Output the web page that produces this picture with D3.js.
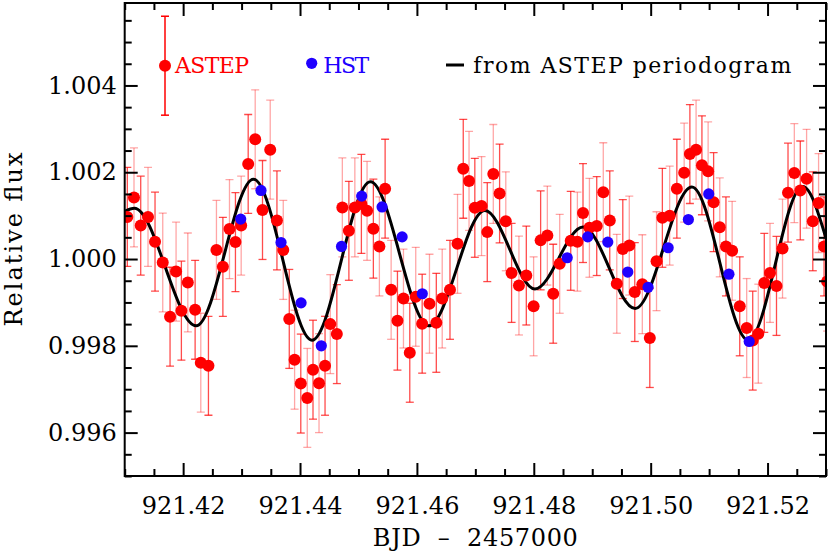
<!DOCTYPE html>
<html>
<head>
<meta charset="utf-8">
<script src="https://cdn.jsdelivr.net/npm/d3@7"></script>
<style>
  html, body { margin: 0; padding: 0; background: #fff; }
  svg { display: block; }
  text { font-family: "DejaVu Serif", "Liberation Serif", serif; }
</style>
</head>
<body>
<svg id="chart" width="830" height="554"></svg>
<script>
// ---------------- data ----------------
const astepTime = [
  921.41045, 921.41159, 921.41274, 921.41399, 921.41519, 921.41651, 921.41776, 921.41879, 921.41970, 921.42080,
  921.42205, 921.42302, 921.42433, 921.42570, 921.42680, 921.42793, 921.42895, 921.42993, 921.43113, 921.43233,
  921.43358, 921.43490, 921.43605, 921.43713, 921.43816, 921.43907, 921.44013, 921.44124, 921.44222, 921.44325,
  921.44428, 921.44518, 921.44630, 921.44724, 921.44836, 921.44938, 921.45050, 921.45147, 921.45255, 921.45358,
  921.45456, 921.45559, 921.45667, 921.45770, 921.45878, 921.45980, 921.46090, 921.46215, 921.46332, 921.46433,
  921.46566, 921.46695, 921.46793, 921.46892, 921.46991, 921.47106, 921.47204, 921.47307, 921.47415, 921.47521,
  921.47620, 921.47746, 921.47872, 921.47997, 921.48117, 921.48232, 921.48332, 921.48443, 921.48632, 921.48746,
  921.48842, 921.48952, 921.49077, 921.49189, 921.49300, 921.49420, 921.49523, 921.49634, 921.49728, 921.49857,
  921.49985, 921.50100, 921.50200, 921.50325, 921.50448, 921.50573, 921.50671, 921.50777, 921.50877, 921.50983,
  921.51077, 921.51182, 921.51288, 921.51394, 921.51524, 921.51643, 921.51746, 921.51842, 921.51944, 921.52042,
  921.52153, 921.52256, 921.52350, 921.52458, 921.52560, 921.52668, 921.52774, 921.52873, 921.52967, 921.53019
];
const astepFlux = [
  1.00097, 1.00142, 1.00077, 1.00097, 1.00040, 0.99992, 0.99867, 0.99971, 0.99881, 0.99946,
  0.99883, 0.99761, 0.99754, 1.00021, 0.99982, 1.00069, 1.00039, 1.00077, 1.00219, 1.00276,
  1.00113, 1.00252, 1.00089, 1.00021, 0.99862, 0.99768, 0.99713, 0.99680, 0.99745, 0.99714,
  0.99754, 0.99850, 0.99827, 1.00119, 1.00065, 1.00119, 1.00127, 1.00111, 1.00070, 1.00029,
  1.00162, 0.99929, 0.99858, 0.99909, 0.99784, 0.99913, 0.99851, 0.99897, 0.99853, 0.99909,
  0.99929, 1.00035, 1.00208, 1.00180, 1.00118, 1.00122, 1.00062, 1.00196, 1.00151, 1.00087,
  0.99968, 0.99939, 0.99962, 0.99891, 1.00043, 1.00054, 0.99920, 0.99989, 1.00042, 1.00040,
  1.00106, 1.00072, 1.00076, 1.00154, 1.00089, 0.99943, 1.00023, 1.00031, 0.99924, 0.99942,
  0.99818, 0.99995, 1.00095, 1.00100, 1.00162, 1.00199, 1.00242, 1.00252, 1.00216, 1.00202,
  1.00131, 1.00073, 1.00029, 1.00019, 0.99891, 0.99841, 0.99812, 0.99828, 0.99945, 0.99968,
  0.99938, 1.00024, 1.00153, 1.00198, 1.00158, 1.00185, 1.00087, 1.00129, 1.00029, 0.99948
];
const astepErr = 0.00114;

const hstTime = [
  921.42985, 921.43332, 921.43675, 921.44018, 921.44364, 921.44710, 921.45055, 921.45404, 921.45747, 921.46092,
  921.48572, 921.48923, 921.49266, 921.49608, 921.49955, 921.50299, 921.50645, 921.50993, 921.51339, 921.51686
];
const hstFlux = [
  1.00092, 1.00158, 1.00038, 0.99899, 0.99800, 1.00029, 1.00145, 1.00120, 1.00051, 0.99920,
  1.00003, 1.00051, 1.00039, 0.99970, 0.99935, 1.00026, 1.00091, 1.00150, 0.99965, 0.99810
];

// model curve (edges and turning points)
const modelTime = [
  921.41000, 921.41165, 921.42222, 921.43204, 921.44205, 921.45204, 921.46203, 921.47163,
  921.48020, 921.48842, 921.49734, 921.50705, 921.51670, 921.52602, 921.53000
];
const modelFlux = [
  1.00110, 1.00117, 0.99846, 1.00184, 0.99813, 1.00178, 0.99846, 1.00112,
  0.99931, 1.00074, 0.99886, 1.00166, 0.99813, 1.00167, 1.00048
];

const xMajorTicks = [921.42, 921.44, 921.46, 921.48, 921.50, 921.52];
const xTickLabels = ["921.42", "921.44", "921.46", "921.48", "921.50", "921.52"];
const yMajorTicks = [0.996, 0.998, 1.000, 1.002, 1.004];
const yTickLabels = ["0.996", "0.998", "1.000", "1.002", "1.004"];
const xDomain = [921.41, 921.53];
const yDomain = [0.995, 1.0059];
const xMinorStep = 0.005;
const yMinorStep = 0.0005;

const legendLabels = ["ASTEP", "HST", "from ASTEP periodogram"];
const xTitle = "BJD  \u2013  2457000";
const yTitle = "Relative flux";

// ---------------- drawing ----------------
const svg = d3.select("#chart");
const L = 124.7, R = 826, T = 3, B = 476;
const x = d3.scaleLinear().domain(xDomain).range([L, R]);
const y = d3.scaleLinear().domain(yDomain).range([B, T]);

const RED = "#ff0000", BLUE = "#2000ff";

svg.append("defs").append("clipPath").attr("id", "clip")
  .append("rect").attr("x", L).attr("y", T).attr("width", R - L).attr("height", B - T);

const plot = svg.append("g").attr("clip-path", "url(#clip)");

const astep = astepTime.map((t, i) => ({ t, f: astepFlux[i], e: astepErr, i }));
const hst = hstTime.map((t, i) => ({ t, f: hstFlux[i] }));

// error bars
const eb = plot.append("g").selectAll("g").data(astep).join("g")
  .attr("stroke", RED)
  .attr("stroke-opacity", d => d.i % 2 === 0 ? 0.7 : 0.35)
  .attr("stroke-width", 1.3);
eb.append("line")
  .attr("x1", d => x(d.t)).attr("x2", d => x(d.t))
  .attr("y1", d => y(d.f - d.e)).attr("y2", d => y(d.f + d.e));
eb.append("line")
  .attr("x1", d => x(d.t) - 4).attr("x2", d => x(d.t) + 4)
  .attr("y1", d => y(d.f + d.e)).attr("y2", d => y(d.f + d.e));
eb.append("line")
  .attr("x1", d => x(d.t) - 4).attr("x2", d => x(d.t) + 4)
  .attr("y1", d => y(d.f - d.e)).attr("y2", d => y(d.f - d.e));

// model curve
const model = modelTime.map((t, i) => ({ t, f: modelFlux[i] }));
plot.append("path").datum(model)
  .attr("fill", "none").attr("stroke", "#000").attr("stroke-width", 3)
  .attr("d", d3.line().x(d => x(d.t)).y(d => y(d.f)).curve(d3.curveMonotoneX));

// points
plot.append("g").selectAll("circle").data(astep).join("circle")
  .attr("cx", d => x(d.t)).attr("cy", d => y(d.f)).attr("r", 6).attr("fill", RED);
plot.append("g").selectAll("circle").data(hst).join("circle")
  .attr("cx", d => x(d.t)).attr("cy", d => y(d.f)).attr("r", 5.6).attr("fill", BLUE);

// axes (ticks inward on all sides)
const xMinor = d3.range(Math.round((xDomain[1] - xDomain[0]) / xMinorStep) + 1).map(k => xDomain[0] + k * xMinorStep)
  .filter(v => !xMajorTicks.some(m => Math.abs(m - v) < 1e-7));
const yMinor = d3.range(Math.round((1.0055 - yDomain[0]) / yMinorStep) + 1).map(k => yDomain[0] + k * yMinorStep)
  .filter(v => !yMajorTicks.some(m => Math.abs(m - v) < 1e-8));

function styleAxis(g) {
  g.selectAll(".domain").remove();
  g.selectAll(".tick line").attr("stroke", "#000").attr("stroke-width", 2);
  g.selectAll(".tick text").attr("fill", "#000").style("font-size", "24px")
    .style("font-family", '"DejaVu Serif", serif');
}
const MAJ = 13, MIN = 7;
// bottom
svg.append("g").attr("transform", `translate(0,${B})`)
  .call(d3.axisBottom(x).tickValues(xMajorTicks).tickSize(-MAJ).tickPadding(21)
    .tickFormat((d, i) => xTickLabels[i])).call(styleAxis);
svg.append("g").attr("transform", `translate(0,${B})`)
  .call(d3.axisBottom(x).tickValues(xMinor).tickSize(-MIN).tickFormat("")).call(styleAxis);
// top
svg.append("g").attr("transform", `translate(0,${T})`)
  .call(d3.axisTop(x).tickValues(xMajorTicks).tickSize(-MAJ).tickFormat("")).call(styleAxis);
svg.append("g").attr("transform", `translate(0,${T})`)
  .call(d3.axisTop(x).tickValues(xMinor).tickSize(-MIN).tickFormat("")).call(styleAxis);
// left
svg.append("g").attr("transform", `translate(${L},0)`)
  .call(d3.axisLeft(y).tickValues(yMajorTicks).tickSize(-MAJ).tickPadding(8)
    .tickFormat((d, i) => yTickLabels[i])).call(styleAxis);
svg.append("g").attr("transform", `translate(${L},0)`)
  .call(d3.axisLeft(y).tickValues(yMinor).tickSize(-MIN).tickFormat("")).call(styleAxis);
// right
svg.append("g").attr("transform", `translate(${R},0)`)
  .call(d3.axisRight(y).tickValues(yMajorTicks).tickSize(-MAJ).tickFormat("")).call(styleAxis);
svg.append("g").attr("transform", `translate(${R},0)`)
  .call(d3.axisRight(y).tickValues(yMinor).tickSize(-MIN).tickFormat("")).call(styleAxis);

// frame
svg.append("rect").attr("x", L).attr("y", T).attr("width", R - L).attr("height", B - T)
  .attr("fill", "none").attr("stroke", "#000").attr("stroke-width", 2);

// axis titles
svg.append("text").attr("x", (L + R) / 2).attr("y", 546)
  .attr("text-anchor", "middle").style("font-size", "24px").attr("fill", "#000")
  .attr("xml:space", "preserve").style("white-space", "pre")
  .attr("textLength", 205).attr("lengthAdjust", "spacing")
  .text(xTitle);
svg.append("text").attr("transform", `translate(22,${(T + B) / 2}) rotate(-90)`)
  .attr("text-anchor", "middle").style("font-size", "24px").attr("fill", "#000")
  .attr("textLength", 174).attr("lengthAdjust", "spacing")
  .text(yTitle);

// legend
const errPx = y(1) - y(1 + astepErr);
const lg = svg.append("g");
lg.append("line").attr("x1", 165).attr("x2", 165).attr("y1", 65.7 - errPx).attr("y2", 65.7 + errPx)
  .attr("stroke", RED).attr("stroke-width", 1.5);
[65.7 - errPx, 65.7 + errPx].forEach(yy =>
  lg.append("line").attr("x1", 161).attr("x2", 169).attr("y1", yy).attr("y2", yy)
    .attr("stroke", RED).attr("stroke-width", 1.5));
lg.append("circle").attr("cx", 165).attr("cy", 65.7).attr("r", 6).attr("fill", RED);
lg.append("text").attr("x", 175).attr("y", 72.7).attr("fill", RED).style("font-size", "22px")
  .attr("textLength", 74).attr("lengthAdjust", "spacing").text(legendLabels[0]);
lg.append("circle").attr("cx", 311.7).attr("cy", 63.3).attr("r", 5.6).attr("fill", BLUE);
lg.append("text").attr("x", 323.3).attr("y", 72.7).attr("fill", BLUE).style("font-size", "22px")
  .attr("textLength", 46).attr("lengthAdjust", "spacing").text(legendLabels[1]);
lg.append("line").attr("x1", 446).attr("x2", 464).attr("y1", 65).attr("y2", 65)
  .attr("stroke", "#000").attr("stroke-width", 3);
lg.append("text").attr("x", 473.3).attr("y", 72.7).attr("fill", "#000").style("font-size", "22px")
  .attr("textLength", 318).attr("lengthAdjust", "spacing").text(legendLabels[2]);
</script>
</body>
</html>
